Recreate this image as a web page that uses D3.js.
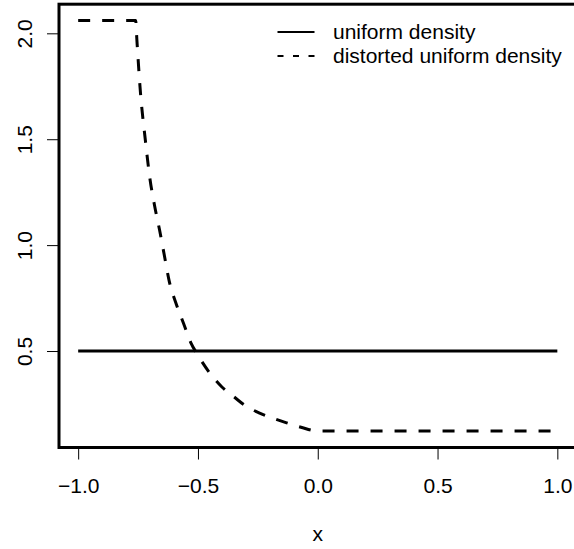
<!DOCTYPE html>
<html>
<head>
<meta charset="utf-8">
<script src="https://cdn.jsdelivr.net/npm/d3@7"></script>
<style>
  body { margin: 0; background: #fff; }
  svg { display: block; font-family: "Liberation Sans", Arial, sans-serif; }
</style>
</head>
<body>
<div id="chart-area"></div>
<script>
// data
var uniformX = [-1, 1];
var uniformY = [0.5, 0.5];
var distX = [-1, -0.76, -0.755, -0.74, -0.72, -0.70, -0.68, -0.66, -0.64, -0.62, -0.59, -0.56,
  -0.53, -0.50, -0.45, -0.40, -0.35, -0.30, -0.24, -0.18, -0.13, -0.07, 0, 1];
var distY = [2.06, 2.06, 1.97, 1.72, 1.50, 1.31, 1.18, 1.07, 0.95, 0.83, 0.72, 0.63,
  0.54, 0.48, 0.395, 0.33, 0.284, 0.24, 0.206, 0.18, 0.161, 0.14, 0.122, 0.122];
var xTicks = [-1, -0.5, 0, 0.5, 1];
var yTicks = [0.5, 1, 1.5, 2];
var legendLabels = ["uniform density", "distorted uniform density"];

var W = 574, H = 549;
var margin = { left: 59, top: 4.2, right: W - 576.5, bottom: H - 447.5 };
var width = W - margin.left - margin.right;
var height = H - margin.top - margin.bottom;

var svg = d3.select("#chart-area")
  .append("svg")
  .attr("width", W)
  .attr("height", H);

var g = svg.append("g")
  .attr("transform", "translate(" + margin.left + "," + margin.top + ")");

// R style 4% padding on each side
function padded(lo, hi) {
  var d = (hi - lo) * 0.04;
  return [lo - d, hi + d];
}

var allY = uniformY.concat(distY);
var x = d3.scaleLinear()
  .domain(padded(d3.min(distX), d3.max(distX)))
  .range([0, width]);
var y = d3.scaleLinear()
  .domain(padded(d3.min(allY), d3.max(allY)))
  .range([height, 0]);

function fmt(d) {
  return d3.format(".1f")(d).replace("-", "\u2212");
}

// x axis
var xAxis = g.append("g")
  .attr("transform", "translate(0," + height + ")")
  .call(d3.axisBottom(x).tickValues(xTicks).tickSize(12).tickFormat(fmt));
xAxis.select(".domain").remove();
xAxis.selectAll(".tick line").attr("stroke", "#000").attr("stroke-width", 1);
xAxis.selectAll(".tick text")
  .attr("y", 45.2).attr("dy", null)
  .attr("font-size", "21px").attr("fill", "#000")
  .attr("font-family", "Liberation Sans, Arial, sans-serif");

// y axis
var yAxis = g.append("g")
  .call(d3.axisLeft(y).tickValues(yTicks).tickSize(12).tickFormat(fmt));
yAxis.select(".domain").remove();
yAxis.selectAll(".tick line").attr("stroke", "#000").attr("stroke-width", 1);
yAxis.selectAll(".tick text")
  .attr("x", null).attr("dy", null)
  .attr("text-anchor", "middle")
  .attr("transform", "translate(" + (31.7 - margin.left) + ",0) rotate(-90)")
  .attr("font-size", "21px").attr("fill", "#000")
  .attr("font-family", "Liberation Sans, Arial, sans-serif");

// x label
g.append("text")
  .attr("x", width / 2)
  .attr("y", 541.5 - margin.top)
  .attr("text-anchor", "middle")
  .attr("font-size", "21px")
  .text("x");

// lines
var line = d3.line()
  .x(function(d) { return x(d[0]); })
  .y(function(d) { return y(d[1]); })
  .curve(d3.curveMonotoneX);

g.append("path")
  .datum(d3.zip(uniformX, uniformY))
  .attr("fill", "none")
  .attr("stroke", "#000")
  .attr("stroke-width", 3)
  .attr("d", line);

g.append("path")
  .datum(d3.zip(distX, distY))
  .attr("fill", "none")
  .attr("stroke", "#000")
  .attr("stroke-width", 3)
  .attr("stroke-dasharray", "12,12")
  .attr("d", line);

// box
g.append("rect")
  .attr("width", width)
  .attr("height", height)
  .attr("fill", "none")
  .attr("stroke", "#000")
  .attr("stroke-width", 3);

// legend
var legend = svg.append("g");
var rows = legend.selectAll("g")
  .data(legendLabels)
  .enter()
  .append("g")
  .attr("transform", function(d, i) { return "translate(277.5," + (32 + i * 24) + ")"; });

rows.append("line")
  .attr("x1", 0).attr("x2", 37)
  .attr("stroke", "#000")
  .attr("stroke-width", 2)
  .attr("stroke-dasharray", function(d, i) { return i === 1 ? "6,9.5" : null; });

rows.append("text")
  .attr("x", 55.5)
  .attr("y", 7)
  .attr("font-size", "21px")
  .text(function(d) { return d; });
</script>
</body>
</html>
